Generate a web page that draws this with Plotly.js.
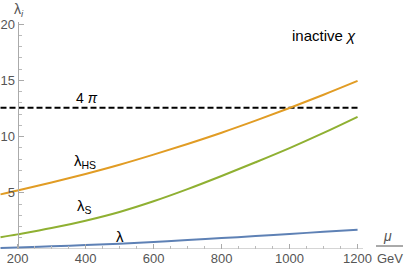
<!DOCTYPE html>
<html><head><meta charset="utf-8">
<script src="https://cdn.plot.ly/plotly-3.0.1.min.js"></script>
<style>html,body{margin:0;padding:0;background:#fff}#plot{width:407px;height:270px}</style>
</head><body><div id="plot"></div>
<script>
// Data
const mu       = [150, 200, 300, 400, 500, 600, 700, 800, 900, 1000, 1100, 1200];
const lambdaHS = [4.86, 5.20, 5.92, 6.68, 7.50, 8.40, 9.35, 10.35, 11.42, 12.55, 13.73, 14.96];
const lambdaS  = [1.04, 1.30, 1.86, 2.52, 3.30, 4.25, 5.33, 6.50, 7.72, 8.98, 10.33, 11.76];
const lambda   = [0.09, 0.14, 0.24, 0.35, 0.47, 0.62, 0.79, 0.97, 1.15, 1.34, 1.53, 1.72];
const boundX   = [150, 1200];
const boundY   = [4*Math.PI, 4*Math.PI];
const yTicks   = [5, 10, 15, 20];
const xTicks   = [200, 400, 600, 800, 1000, 1200];
const xMinor   = [250,300,350,450,500,550,650,700,750,850,900,950,1050,1100,1150];
const yMinor   = [1,2,3,4,6,7,8,9,11,12,13,14,16,17,18,19];

const font = "Liberation Sans, Arial, sans-serif";
const gray = "#555";
const traces = [
  {x: boundX, y: boundY, mode: "lines", line: {color: "#000", width: 2, dash: "6px,3px"}, hoverinfo: "skip"},
  {x: mu, y: lambdaHS, mode: "lines", line: {color: "#E19C24", width: 2, shape: "spline"}},
  {x: mu, y: lambdaS, mode: "lines", line: {color: "#8FB032", width: 2, shape: "spline"}},
  {x: mu, y: lambda, mode: "lines", line: {color: "#5E81B5", width: 2, shape: "spline"}}
];
const layout = {
  width: 407, height: 270,
  margin: {l: 0, r: 44, t: 22, b: 21},
  showlegend: false,
  paper_bgcolor: "#fff", plot_bgcolor: "#fff",
  font: {family: font, size: 13, color: gray},
  xaxis: {
    range: [148.5, 1216], showgrid: false, zeroline: false, showline: false,
    tickmode: "array", tickvals: xTicks, ticks: "inside", ticklen: 5, tickcolor: "#aaa", tickwidth: 1,
    tickfont: {family: font, size: 13, color: gray},
    minor: {tickmode: "array", tickvals: xMinor, ticks: "inside", ticklen: 3, tickcolor: "#bbb", tickwidth: 1, showgrid: false}
  },
  yaxis: {
    range: [0, 20.2], anchor: "free", position: 17.5/363, showgrid: false, zeroline: false,
    showline: true, linecolor: "#aaa", linewidth: 1,
    tickmode: "array", tickvals: yTicks, ticks: "inside", ticklen: 5, tickcolor: "#aaa", tickwidth: 1,
    tickfont: {family: font, size: 13, color: gray},
    minor: {tickmode: "array", tickvals: yMinor, ticks: "inside", ticklen: 3, tickcolor: "#bbb", tickwidth: 1, showgrid: false}
  },
  shapes: [
    {type: "line", xref: "x", yref: "y", x0: 200, x1: 1216, y0: 0, y1: 0, line: {color: "#aaa", width: 1}, layer: "below"},
    {type: "line", xref: "paper", yref: "paper", x0: 376/363, x1: 403/363, y0: 3/227, y1: 3/227, line: {color: gray, width: 1}}
  ],
  annotations: [
    {x: 398, y: 7.82, xref: "x", yref: "y", text: "λ<sub>HS</sub>", showarrow: false, font: {family: font, size: 15, color: "#000"}},
    {x: 398, y: 3.76, xref: "x", yref: "y", text: "λ<sub>S</sub>", showarrow: false, font: {family: font, size: 15, color: "#000"}},
    {x: 501, y: 1.1, xref: "x", yref: "y", text: "λ", showarrow: false, font: {family: font, size: 15, color: "#000"}},
    {x: 405, y: 13.4, xref: "x", yref: "y", text: "4 <i>π</i>", showarrow: false, font: {family: font, size: 14, color: "#000"}},
    {x: 1100, y: 19.02, xref: "x", yref: "y", text: "inactive <i>χ</i>", showarrow: false, font: {family: font, size: 15, color: "#000"}},
    {x: 19/363, y: 1, xref: "paper", yref: "paper", xanchor: "center", yanchor: "bottom", yshift: 1, text: "λ<sub><i>i</i></sub>", showarrow: false, font: {family: font, size: 14, color: gray}},
    {x: 387/363, y: 3/227, xref: "paper", yref: "paper", xanchor: "center", yanchor: "bottom", text: "<i>μ</i>", showarrow: false, font: {family: font, size: 14, color: gray}},
    {x: 389.5/363, y: 0, xref: "paper", yref: "paper", xanchor: "center", yanchor: "top", text: "GeV", showarrow: false, font: {family: font, size: 13, color: gray}}
  ]
};
Plotly.newPlot("plot", traces, layout, {staticPlot: true, displayModeBar: false});
</script></body></html>
